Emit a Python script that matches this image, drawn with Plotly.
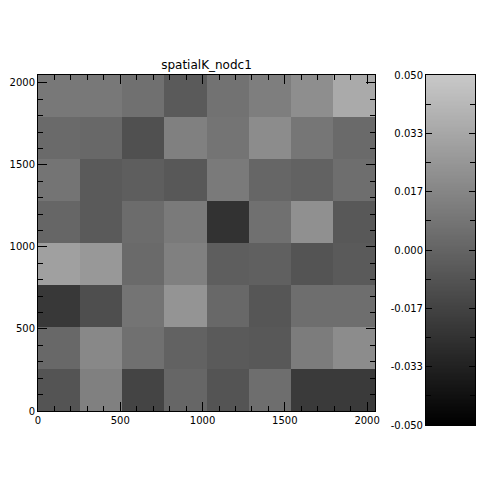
import numpy as np
import plotly.graph_objects as go

title = "spatialK_nodc1"
x_edges = [0, 256, 512, 768, 1024, 1280, 1536, 1792, 2048]
y_edges = [0, 256, 512, 768, 1024, 1280, 1536, 1792, 2048]

# rows from bottom (y=0) to top
z_rows = [
    [-0.008, 0.014, -0.016, 0.001, -0.008, 0.005, -0.021, -0.021],
    [0.002, 0.018, 0.006, -0.001, -0.005, -0.006, 0.012, 0.020],
    [-0.022, -0.011, 0.008, 0.024, 0.002, -0.007, 0.005, 0.005],
    [0.030, 0.026, 0.003, 0.014, -0.003, -0.002, -0.008, -0.005],
    [0.001, -0.005, 0.004, 0.011, -0.025, 0.006, 0.022, -0.006],
    [0.008, -0.005, -0.003, -0.006, 0.011, 0.001, -0.001, 0.005],
    [0.003, 0.002, -0.010, 0.014, 0.008, 0.020, 0.009, 0.003],
    [0.010, 0.010, 0.006, -0.005, 0.007, 0.013, 0.021, 0.035],
]

zmin, zmax = -0.05, 0.05
cbar_tickvals = [-0.05, -0.05 + 0.1 / 6, -0.05 + 0.2 / 6, 0.0, 0.05 - 0.2 / 6, 0.05 - 0.1 / 6, 0.05]
cbar_ticktext = ["-0.050", "-0.033", "-0.017", "0.000", "0.017", "0.033", "0.050"]
cbar_minor = [-0.05 + 0.1 / 12 * k for k in (1, 3, 5, 7, 9, 11)]
cbar_levels = np.linspace(zmin, zmax, 256)

colorscale = [[0, "rgb(0,0,0)"], [1, "rgb(200,200,200)"]]

# page has an 8px body margin; figure coordinates below are page coords minus 8
W, H = 492, 492
ml, mr, mt, mb = 30, 25, 67, 75
pw = W - ml - mr
ph = H - mt - mb

fig = go.Figure()
fig.add_trace(go.Heatmap(
    z=z_rows, x=x_edges, y=y_edges, colorscale=colorscale,
    zmin=zmin, zmax=zmax, showscale=False, xaxis="x", yaxis="y",
    hoverinfo="skip",
))
fig.add_trace(go.Heatmap(
    z=[[v] for v in cbar_levels], x=[0, 1], y=list(np.linspace(zmin, zmax, 257)),
    colorscale=colorscale, zmin=zmin, zmax=zmax, showscale=False,
    xaxis="x2", yaxis="y2", hoverinfo="skip",
))

font = dict(family="DejaVu Sans", size=10, color="black")
axcommon = dict(showgrid=False, zeroline=False, showline=True, linecolor="black",
                linewidth=1, mirror="ticks", ticks="inside", ticklen=9,
                tickcolor="black", tickfont=font, automargin=False)

fig.update_layout(
    width=W, height=H,
    margin=dict(l=ml, r=mr, t=mt, b=mb, autoexpand=False),
    paper_bgcolor="white", plot_bgcolor="white",
    showlegend=False,
    title=dict(text=title, x=(ml + (367 - ml) / 2) / W, xanchor="center",
               y=1 - 57 / H, yanchor="middle", automargin=False,
               font=dict(family="DejaVu Sans", size=12, color="black")),
    xaxis=dict(domain=[0, (367 - ml) / pw], range=[0, 2048], anchor="y",
               tickvals=[0, 500, 1000, 1500, 2000],
               minor=dict(dtick=100, tick0=0, ticks="inside", ticklen=5, tickcolor="black"),
               **axcommon),
    yaxis=dict(domain=[(417 - 403) / ph, 1], range=[0, 2048], anchor="x",
               tickvals=[0, 500, 1000, 1500, 2000],
               minor=dict(dtick=100, tick0=0, ticks="inside", ticklen=5, tickcolor="black"),
               **axcommon),
    xaxis2=dict(domain=[(418 - ml) / pw, 1], range=[0, 1], anchor="y2",
                showticklabels=False, showgrid=False, zeroline=False, showline=True,
                linecolor="black", mirror=True, ticks="", automargin=False),
    yaxis2=dict(domain=[0, 1], range=[zmin, zmax], anchor="x2",
                tickvals=cbar_tickvals, ticktext=cbar_ticktext,
                minor=dict(tickvals=cbar_minor, ticks="inside", ticklen=5, tickcolor="black"),
                **dict(axcommon, ticklen=6)),
)

fig.write_html("out.html")
